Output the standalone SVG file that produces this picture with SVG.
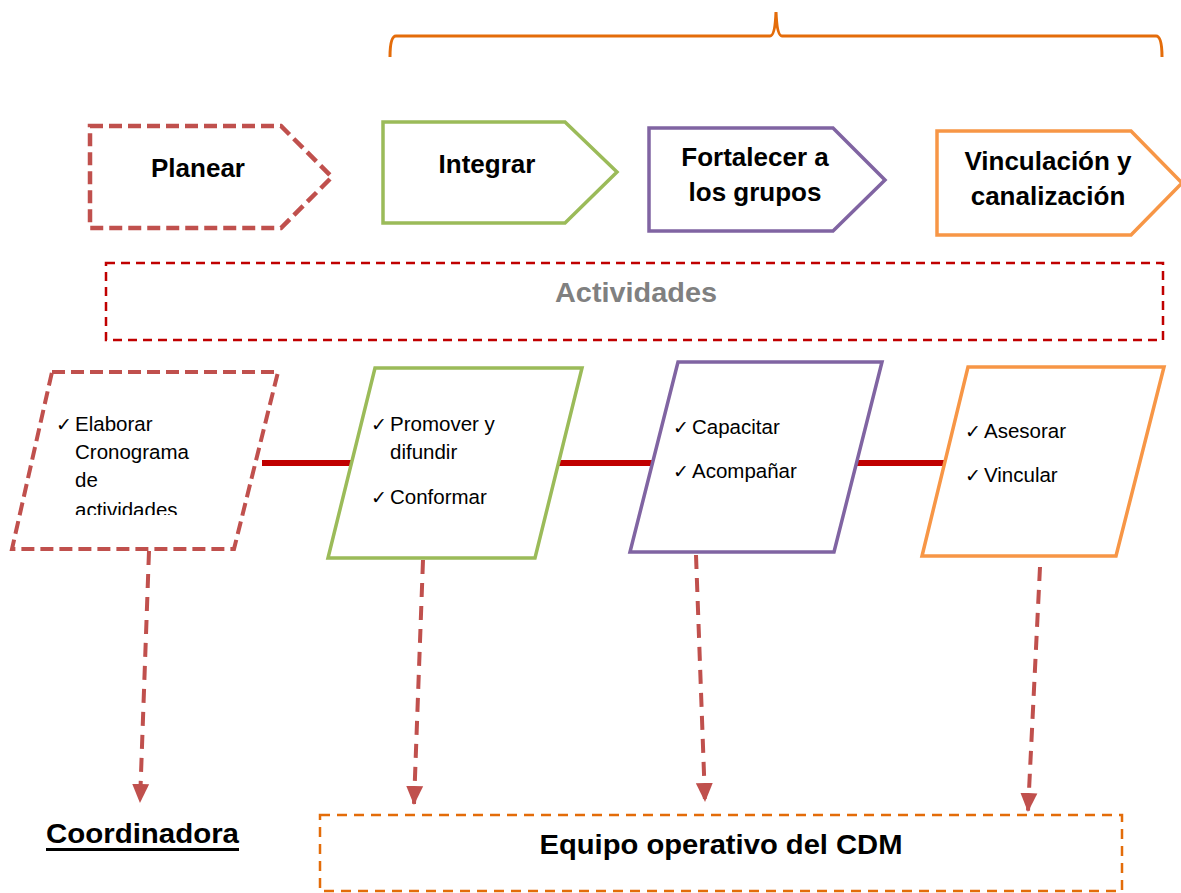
<svg xmlns="http://www.w3.org/2000/svg" width="1181" height="893" viewBox="0 0 1181 893">
<style>
.lbl{font-family:"Liberation Sans",Arial,sans-serif;font-weight:bold;font-size:26px;fill:#000;text-anchor:middle}
.item{font-family:"Liberation Sans",Arial,sans-serif;font-size:20.5px;fill:#000}
.chk{font-family:"DejaVu Sans",sans-serif;font-size:19px;fill:#000}
.arr{fill:none;stroke:#C0504D;stroke-width:4;stroke-dasharray:14 9}
.link{stroke:#C00000;stroke-width:6}
</style>
<defs>
<marker id="ah2" markerUnits="userSpaceOnUse" markerWidth="20" markerHeight="20" refX="18" refY="10" orient="auto" viewBox="0 0 20 20">
<path d="M0,1.5 L19,10 L0,18.5 Z" fill="#C0504D"/>
</marker>
<clipPath id="clip1"><rect x="0" y="360" width="300" height="155"/></clipPath>
</defs>
<rect width="1181" height="893" fill="#fff"/>

<g id="brace">
<path d="M390,57 Q390,36 396,36 L770,36 Q775,36 776,12 Q777,36 782,36 L1156,36 Q1162,36 1162,57" fill="none" stroke="#E46C0A" stroke-width="3"/>
</g>

<g id="connectors">
<line class="link" x1="262" y1="463" x2="352" y2="463"/>
<line class="link" x1="555" y1="463" x2="652" y2="463"/>
<line class="link" x1="855" y1="463" x2="947" y2="463"/>
<path class="arr" d="M149,551 L140,802" marker-end="url(#ah2)"/>
<path class="arr" d="M423,560 L414,804" marker-end="url(#ah2)"/>
<path class="arr" d="M696,555 L705,801" marker-end="url(#ah2)"/>
<path class="arr" d="M1040,567 L1028,811" marker-end="url(#ah2)"/>
</g>

<g id="planear">
<path d="M90,126 L281,126 L332,177 L281,228 L90,228 Z" fill="#fff" stroke="#C0504D" stroke-width="4.5" stroke-dasharray="13 6"/>
<text class="lbl" x="198" y="177">Planear</text>
</g>
<g id="integrar">
<path d="M383,122 L565,122 L617,172 L565,223 L383,223 Z" fill="#fff" stroke="#9BBB59" stroke-width="3.5"/>
<text class="lbl" x="487" y="173">Integrar</text>
</g>
<g id="fortalecer">
<path d="M649,128 L833,128 L885,180 L833,231 L649,231 Z" fill="#fff" stroke="#8064A2" stroke-width="3.5"/>
<text class="lbl" x="755" y="166">Fortalecer a</text>
<text class="lbl" x="755" y="201">los grupos</text>
</g>
<g id="vinculacion">
<path d="M937,131 L1131,131 L1182,183 L1131,235 L937,235 Z" fill="#fff" stroke="#F79646" stroke-width="3.5"/>
<text class="lbl" x="1048" y="170">Vinculación y</text>
<text class="lbl" x="1048" y="205">canalización</text>
</g>

<g id="actividades">
<rect x="106" y="263" width="1057" height="77" fill="none" stroke="#C00000" stroke-width="2.5" stroke-dasharray="9 6"/>
<text x="636" y="302" font-family="Liberation Sans,Arial,sans-serif" font-weight="bold" font-size="28" fill="#808080" text-anchor="middle" textLength="162" lengthAdjust="spacingAndGlyphs">Actividades</text>
</g>

<g id="p1">
<path d="M52,372 L278,372 L234,549 L12,549 Z" fill="#fff" stroke="#C0504D" stroke-width="4" stroke-dasharray="13 6"/>
<g clip-path="url(#clip1)">
<text class="chk" x="56" y="431">✓</text>
<text class="item" x="75" y="431">Elaborar</text>
<text class="item" x="75" y="459">Cronograma</text>
<text class="item" x="75" y="487">de</text>
<text class="item" x="75" y="517">actividades</text>
</g>
</g>
<g id="p2">
<path d="M375,368 L582,368 L535,558 L328,558 Z" fill="#fff" stroke="#9BBB59" stroke-width="3.5"/>
<text class="chk" x="371" y="431">✓</text>
<text class="item" x="390" y="431">Promover y</text>
<text class="item" x="390" y="459">difundir</text>
<text class="chk" x="371" y="504">✓</text>
<text class="item" x="390" y="504">Conformar</text>
</g>
<g id="p3">
<path d="M678,362 L882,362 L834,552 L630,552 Z" fill="#fff" stroke="#8064A2" stroke-width="3.5"/>
<text class="chk" x="673" y="434">✓</text>
<text class="item" x="692" y="434">Capacitar</text>
<text class="chk" x="673" y="478">✓</text>
<text class="item" x="692" y="478">Acompañar</text>
</g>
<g id="p4">
<path d="M968,367 L1164,367 L1116,556 L922,556 Z" fill="#fff" stroke="#F79646" stroke-width="3.5"/>
<text class="chk" x="965" y="438">✓</text>
<text class="item" x="984" y="438">Asesorar</text>
<text class="chk" x="965" y="482">✓</text>
<text class="item" x="984" y="482">Vincular</text>
</g>

<g id="coordinadora">
<text x="46" y="843" font-family="Liberation Sans,Arial,sans-serif" font-weight="bold" font-size="28" fill="#000" textLength="193" lengthAdjust="spacingAndGlyphs">Coordinadora</text>
<line x1="46" y1="849.5" x2="239" y2="849.5" stroke="#000" stroke-width="3"/>
</g>

<g id="equipo">
<rect x="320" y="815" width="802" height="76" fill="none" stroke="#E36C09" stroke-width="2.5" stroke-dasharray="10 7"/>
<text x="721" y="854" font-family="Liberation Sans,Arial,sans-serif" font-weight="bold" font-size="28" fill="#000" text-anchor="middle" textLength="363" lengthAdjust="spacingAndGlyphs">Equipo operativo del CDM</text>
</g>
</svg>
